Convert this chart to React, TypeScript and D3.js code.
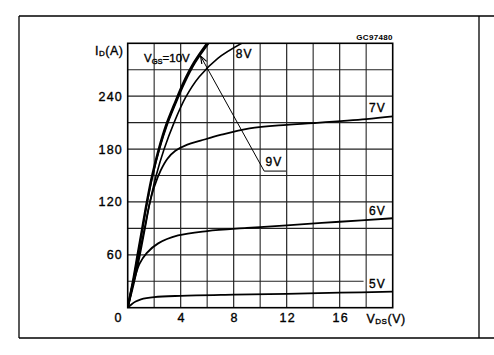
import React from "react";
import * as d3 from "d3";

type Pt = [number, number];

const xTicks = [0, 4, 8, 12, 16];
const yTicks = [60, 120, 180, 240];
const xGrid = [2, 4, 6, 8, 10, 12, 14, 16, 18];
const yGrid = [30, 60, 90, 120, 150, 180, 210, 240, 270];

const vgs10: Pt[] = [[0, 0], [0.4, 30], [0.75, 60], [1.1, 90], [1.45, 120], [1.85, 150], [2.35, 180], [2.9, 207], [3.5, 230], [4.2, 255], [5.0, 278], [6.0, 300]];
const vgs9: Pt[] = [[0, 0], [0.41, 30], [0.77, 60], [1.12, 90], [1.48, 120], [1.89, 150], [2.4, 180], [2.97, 207], [3.58, 230], [4.3, 255], [5.1, 278], [6.12, 300]];
const vgs8: Pt[] = [[0, 0], [0.45, 30], [0.86, 60], [1.27, 90], [1.68, 120], [2.15, 150], [2.75, 180], [3.5, 210], [4.35, 238], [5.4, 262], [6.8, 283], [8.6, 300]];
const vgs7: Pt[] = [[0, 0], [0.5, 30], [0.92, 60], [1.3, 90], [1.68, 120], [2.0, 137], [2.5, 156], [3.0, 169], [3.6, 178], [4.5, 185], [5.5, 189.5], [7, 196], [9.2, 203.5], [12, 207.5], [14, 209.5], [18, 214], [20, 217]];
const vgs6: Pt[] = [[0, 0], [0.3, 22], [0.55, 35], [0.9, 50], [1.43, 62], [2.3, 73], [3.8, 82], [6, 87], [9, 90.5], [12, 93.5], [16, 97.5], [20, 101.5]];
const vgs5: Pt[] = [[0, 0], [0.3, 4], [0.6, 7], [1.0, 9.5], [2, 12], [4, 13.5], [8, 14.8], [12, 15.8], [16, 17], [20, 18.2]];

const series = [
  { name: "10V", data: vgs10, width: 2.4 },
  { name: "9V", data: vgs9, width: 1.6 },
  { name: "8V", data: vgs8, width: 1.6 },
  { name: "7V", data: vgs7, width: 1.8 },
  { name: "6V", data: vgs6, width: 1.8 },
  { name: "5V", data: vgs5, width: 1.8 },
];

// label anchor points (data coords)
const curveLabels: { text: string; v: number; i: number; anchor: string }[] = [
  { text: "8V", v: 8.15, i: 283.5, anchor: "start" },
  { text: "7V", v: 19.5, i: 222, anchor: "end" },
  { text: "6V", v: 19.5, i: 105, anchor: "end" },
  { text: "5V", v: 19.5, i: 22, anchor: "end" },
];
const arrowTip: Pt = [5.5, 285.5];
const arrowTail: Pt = [10.3, 155];
const label9: Pt = [10.4, 160.5];

export default function App() {
  const W = 494, H = 355;
  const x = d3.scaleLinear().domain([0, 20]).range([127.7, 392.7]);
  const y = d3.scaleLinear().domain([0, 300]).range([307.7, 43.3]);
  const line = d3
    .line<Pt>()
    .x((d) => x(d[0]))
    .y((d) => y(d[1]))
    .curve(d3.curveCatmullRom.alpha(0.5));

  const font = "'Liberation Sans', Arial, sans-serif";
  const ls = 1.2;
  const txt = { fill: "#000", stroke: "#000", strokeWidth: 0.35 };

  // arrowhead
  const tx = x(arrowTip[0]), ty = y(arrowTip[1]);
  const sx = x(arrowTail[0]), sy = y(arrowTail[1]);
  const ang = Math.atan2(sy - ty, sx - tx);
  const ah = 8, aw = 0.35;
  const a1: Pt = [tx + ah * Math.cos(ang + aw), ty + ah * Math.sin(ang + aw)];
  const a2: Pt = [tx + ah * Math.cos(ang - aw), ty + ah * Math.sin(ang - aw)];

  return (
    <svg
      width={W}
      height={H}
      style={{ position: "absolute", left: 0, top: 0, background: "#fff" }}
      fontFamily={font}
    >
      <rect width={W} height={H} fill="#fff" />
      {/* outer frame */}
      <g stroke="#000" strokeWidth={1.3}>
        <line x1={19} x2={494} y1={16} y2={16} />
        <line x1={19} x2={494} y1={338} y2={338} />
        <line x1={19} x2={19} y1={16} y2={338} />
        <line x1={479} x2={479} y1={16} y2={338} />
      </g>
      <defs>
        <clipPath id="plot">
          <rect x={x(0)} y={y(300)} width={x(20) - x(0)} height={y(0) - y(300)} />
        </clipPath>
      </defs>
      {/* grid */}
      <g>
        {xGrid.map((v) => (
          <line
            key={"gx" + v}
            x1={x(v)}
            x2={x(v)}
            y1={y(0)}
            y2={y(300)}
            stroke={v % 4 === 0 ? "#111" : "#555"}
            strokeWidth={v % 4 === 0 ? 1.1 : 1.4}
          />
        ))}
        {yGrid.map((i) => (
          <line
            key={"gy" + i}
            x1={x(0)}
            x2={i === 30 ? x(17.8) : x(20)}
            y1={y(i)}
            y2={y(i)}
            stroke="#222"
            strokeWidth={1.2}
          />
        ))}
        <rect
          x={x(0)}
          y={y(300)}
          width={x(20) - x(0)}
          height={y(0) - y(300)}
          fill="none"
          stroke="#000"
          strokeWidth={1.6}
        />
      </g>
      {/* curves */}
      <g clipPath="url(#plot)" fill="none" stroke="#000" strokeLinejoin="round">
        {series.map((s) => (
          <path key={s.name} d={line(s.data) || ""} strokeWidth={s.width} />
        ))}
      </g>
      {/* arrow for 9V */}
      <g stroke="#000" fill="none" strokeWidth={1}>
        <line x1={sx} y1={sy} x2={tx} y2={ty} />
        <path d={`M${a1[0]},${a1[1]}L${tx},${ty}L${a2[0]},${a2[1]}`} strokeWidth={1.2} />
        <line x1={sx} y1={sy} x2={x(11.95)} y2={sy} />
      </g>
      <text x={x(label9[0])} y={y(label9[1])} fontSize={12} letterSpacing={ls} {...txt}>
        9V
      </text>
      {/* curve labels */}
      {curveLabels.map((l) => (
        <text
          key={l.text}
          x={x(l.v)}
          y={y(l.i)}
          fontSize={12}
          textAnchor={l.anchor}
          letterSpacing={ls}
          {...txt}
        >
          {l.text}
        </text>
      ))}
      <text x={144} y={62} fontSize={11.5} {...txt}>
        V<tspan fontSize={7.5} dy={1.5}>GS</tspan>
        <tspan dy={-1.5}>=10V</tspan>
      </text>
      <text x={x(20)} y={39.5} fontSize={8} fontWeight="bold" textAnchor="end" letterSpacing={0.3}>
        GC97480
      </text>
      {/* y ticks */}
      {yTicks.map((t) => (
        <text key={"yt" + t} x={123} y={y(t) + 4.5} fontSize={12.5} textAnchor="end" letterSpacing={ls} {...txt}>
          {t}
        </text>
      ))}
      {/* x ticks */}
      {xTicks.map((t) => (
        <text
          key={"xt" + t}
          x={t === 0 ? 118.5 : x(t) + 1}
          y={322}
          fontSize={12.5}
          textAnchor="middle"
          letterSpacing={ls}
          {...txt}
        >
          {t}
        </text>
      ))}
      {/* axis titles */}
      <text x={95} y={55} fontSize={12.5} letterSpacing={0.5} {...txt}>
        I<tspan fontSize={8} dy={1}>D</tspan>
        <tspan dy={-1}>(A)</tspan>
      </text>
      <text x={366.5} y={322.5} fontSize={12.5} letterSpacing={0.5} {...txt}>
        V<tspan fontSize={8} dy={1}>DS</tspan>
        <tspan dy={-1}>(V)</tspan>
      </text>
    </svg>
  );
}
